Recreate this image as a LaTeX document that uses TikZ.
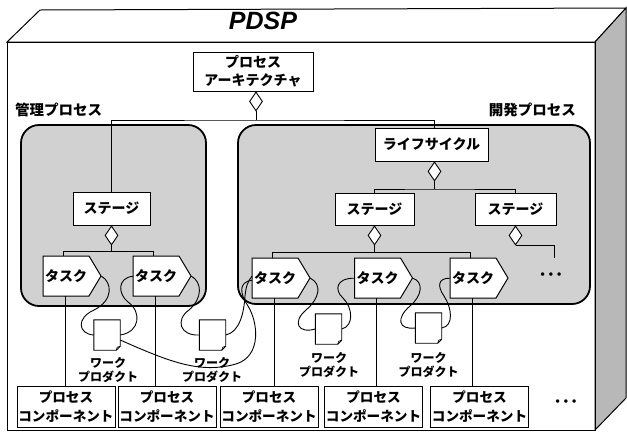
\documentclass[tikz,border=0pt]{standalone}
\usepackage{fontspec}
\setmainfont{Noto Sans CJK JP}
\newfontfamily\latinf{Liberation Sans}
\usetikzlibrary{shapes.geometric,calc}
\newcommand\mytask[3]{%
  \filldraw[fill=white,line width=1pt] (#2,#3) -- ++(46,0) -- ++(12,20) -- ++(-12,20) -- ++(-46,0) -- cycle;
  \node[taskbody,anchor=north west] (#1) at (#2,#3) {タスク};}
\newcommand\mydoc[3]{\node[docnode] (#1) at (#2,#3) {};}
\newcommand\drawdoc[1]{%
  \draw[line width=0.9pt, fill=white] (#1.north west) -- (#1.north east) -- ([yshift=4pt]#1.south east) -- ([xshift=-4pt]#1.south east) -- (#1.south west) -- cycle;
  \draw[line width=0.6pt] ([yshift=4pt]#1.south east) -- ([xshift=-3pt,yshift=3pt]#1.south east) -- ([xshift=-4pt]#1.south east);}
\begin{document}
\begin{tikzpicture}[x=1pt,y=-1pt,
  box/.style={draw, line width=1pt, fill=white, inner sep=0pt, font=\bfseries\fontsize{14}{18}\selectfont, align=center},
  taskbody/.style={minimum width=46pt, minimum height=40pt, inner sep=0pt, font=\bfseries\fontsize{14}{16}\selectfont},
  agg/.style={diamond, draw, line width=0.9pt, fill=white, minimum width=13pt, minimum height=19pt, inner sep=0pt, anchor=north},
  docnode/.style={minimum width=26pt, minimum height=30pt, inner sep=0pt},
  wp/.style={font=\bfseries\fontsize{12}{14}\selectfont, align=center, inner sep=0pt},
  comp/.style={box, minimum width=98pt, minimum height=41pt, font=\bfseries\fontsize{13.6}{19}\selectfont},
  link/.style={line width=0.9pt},
  flow/.style={line width=0.9pt},
  group/.style={draw, line width=1.8pt, rounded corners=18pt, fill=black!18},
  grouplabel/.style={inner sep=0pt, font=\bfseries\fontsize{14.5}{16}\selectfont},
  dots/.style={inner sep=0pt, font=\latinf\bfseries\fontsize{12}{12}\selectfont},
]
\useasboundingbox (0,0) rectangle (627,432);

% 3D frame
\draw[line width=1pt, fill=white] (7,42) -- (40,10) -- (626,8) -- (595,42) -- cycle;
\draw[line width=1pt, fill=black!28] (595,42) -- (626,8) -- (626,398) -- (595,430) -- cycle;
\draw[line width=1pt] (7,42) rectangle (595,430);
\node[inner sep=0pt, font=\latinf\bfseries\itshape\fontsize{25}{25}\selectfont] (title) at (263,21) {PDSP};

% groups
\node[grouplabel, anchor=west] (mgl) at (15,110) {管理プロセス};
\node[grouplabel, anchor=east] (dvl) at (576,110) {開発プロセス};
\draw[group] (21,125) rectangle (206,306);
\draw[group] (238,125) rectangle (590,304);

% upper boxes
\node[box, minimum width=120pt, minimum height=39pt] (arch) at (253,71.5) {プロセス\\アーキテクチャ};
\node[box, minimum width=113pt, minimum height=33pt] (lc) at (431.5,144.5) {ライフサイクル};
\node[box, minimum width=77pt, minimum height=33pt] (st0) at (111.5,208.5) {ステージ};
\node[box, minimum width=79pt, minimum height=32pt] (st1) at (374.5,209) {ステージ};
\node[box, minimum width=81pt, minimum height=32pt] (st2) at (515.5,209) {ステージ};

\node[agg] (d0) at ([xshift=3pt]arch.south) {};
\node[agg] (d1) at ([xshift=3pt]lc.south) {};
\node[agg] (ds0) at (st0.south) {};
\node[agg] (ds1) at (st1.south) {};
\node[agg] (ds2) at (st2.south) {};

\coordinate (b0) at (0,120);
\coordinate (b1) at (0,189);
\coordinate (bm) at (0,251);
\coordinate (bd) at (0,252);
\coordinate (more) at (554,258);

\draw[link] (d0.south) -- (d0.south |- b0);
\draw[link] (st0.north) |- (d0.south |- b0) -| ([xshift=3pt]lc.north);
\draw[link] (d1.south) -- (d1.south |- b1);
\draw[link] (st1.north) |- (d1.south |- b1) -| (st2.north);
\draw[link] (ds2.south) -| (more);

% tasks
\mytask{t1}{43}{256}
\mytask{t2}{133}{256}
\mytask{t3}{252}{258}
\mytask{t4}{354.5}{258}
\mytask{t5}{450}{258}

\draw[link] (ds0.south) -- (ds0.south |- bm);
\draw[link] ([xshift=20pt]t1.north west) |- ([xshift=20pt]t2.north west |- bm) -- ([xshift=20pt]t2.north west);
\draw[link] (ds1.south) -- (ds1.south |- bd);
\draw[link] ([xshift=20pt]t3.north west) |- ([xshift=20pt]t5.north west |- bd) -- ([xshift=20pt]t5.north west);

\node[dots] (more1) at (551,276) {•\kern4pt•\kern4pt•};
\node[dots] (more2) at (566,403) {•\kern4pt•\kern4pt•};

% components
\node[comp] (c1) at (66,406.5) {プロセス\\コンポーネント};
\node[comp] (c2) at (167,406.5) {プロセス\\コンポーネント};
\node[comp] (c3) at (269,406.5) {プロセス\\コンポーネント};
\node[comp] (c4) at (373.5,406.5) {プロセス\\コンポーネント};
\node[comp] (c5) at (479.5,406.5) {プロセス\\コンポーネント};

\foreach \t/\c in {t1/c1,t2/c2,t3/c3,t4/c4,t5/c5}
  \draw[link] ([xshift=22pt]\t.south west) -- ([xshift=22pt]\t.south west |- \c.north);

% work products
\mydoc{w1}{107}{335}
\mydoc{w2}{212.5}{335}
\mydoc{w3}{328.5}{329}
\mydoc{w4}{428.5}{328}

\draw[flow] ([xshift=12pt]t1.east) .. controls (112,282) and (114,300) .. (94,310) .. controls (76,318) and (78,334) .. (w1.west);
\draw[flow] (w1.east) .. controls (140,332) and (142,312) .. (128,302) .. controls (118,294) and (117,278) .. (t2.west);
\draw[flow] ([yshift=-5pt]w1.east) .. controls (170,362) and (200,374) .. (236,364) .. controls (262,356) and (258,322) .. (248,306) .. controls (240,294) and (238,282) .. ([yshift=-2pt]t3.west);
\draw[flow] ([xshift=12pt]t2.east) .. controls (202,282) and (203,298) .. (189,310) .. controls (175,320) and (180,336) .. (w2.west);
\draw[flow] (w2.east) .. controls (240,332) and (244,312) .. (245,296) .. controls (246,286) and (248,281) .. ([yshift=2pt]t3.west);
\draw[flow] ([xshift=12pt]t3.east) .. controls (322,284) and (320,298) .. (306,310) .. controls (292,322) and (298,334) .. (w3.west);
\draw[flow] (w3.east) .. controls (354,326) and (353,308) .. (343,298) .. controls (334,290) and (336,278) .. (t4.west);
\draw[flow] ([xshift=12pt]t4.east) .. controls (424,282) and (422,296) .. (410,306) .. controls (396,318) and (398,330) .. (w4.west);
\draw[flow] (w4.east) .. controls (454,326) and (452,308) .. (444,296) .. controls (437,286) and (438,278) .. (t5.west);

\drawdoc{w1}
\drawdoc{w2}
\drawdoc{w3}
\drawdoc{w4}

\node[wp] (l1) at (108,370) {ワーク\\プロダクト};
\node[wp] (l2) at (212,370) {ワーク\\プロダクト};
\node[wp] (l3) at (329,365) {ワーク\\プロダクト};
\node[wp] (l4) at (428.5,365) {ワーク\\プロダクト};
\end{tikzpicture}
\end{document}
